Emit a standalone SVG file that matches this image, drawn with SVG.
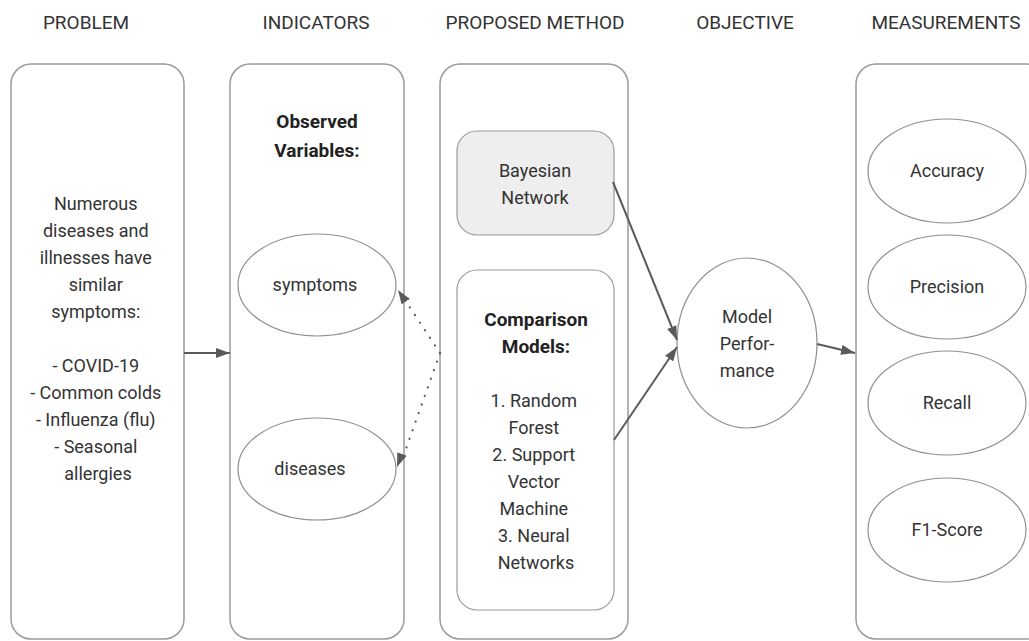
<svg xmlns="http://www.w3.org/2000/svg" width="1029" height="641" viewBox="0 0 1029 641">
<style>
.box{fill:#fff;stroke:#9a9a9a;stroke-width:1.5}
.ell{fill:#fff;stroke:#8f8f8f;stroke-width:1.2}
.hdr{font-family:Roboto,"Liberation Sans",sans-serif;font-size:19px;fill:#333;text-anchor:middle}
.t{font-family:Roboto,"Liberation Sans",sans-serif;font-size:18px;fill:#333;text-anchor:middle}
.b{font-family:Roboto,"Liberation Sans",sans-serif;font-size:19px;font-weight:bold;fill:#222;text-anchor:middle}
.con{fill:none;stroke:#5a5a5a;stroke-width:2}
.dot{fill:none;stroke:#5a5a5a;stroke-width:2.2;stroke-dasharray:0.1 9;stroke-linecap:round}
</style>
<defs>
<marker id="arr" viewBox="0 0 14 10" refX="14" refY="5" markerWidth="14" markerHeight="10" orient="auto" markerUnits="userSpaceOnUse"><path d="M0,0 L14,5 L0,10 z" fill="#5a5a5a"/></marker>
</defs>
<rect width="1029" height="641" fill="#fff"/>

<g id="headers">
<text class="hdr" x="86" y="29">PROBLEM</text>
<text class="hdr" x="316" y="29">INDICATORS</text>
<text class="hdr" x="535" y="29">PROPOSED METHOD</text>
<text class="hdr" x="745" y="29">OBJECTIVE</text>
<text class="hdr" x="946" y="29">MEASUREMENTS</text>
</g>

<g id="problem">
<rect class="box" x="11" y="64" width="173" height="575" rx="20"/>
<text class="t" x="98">
<tspan x="98" y="210">Numerous</tspan>
<tspan x="98" y="237">diseases and</tspan>
<tspan x="98" y="264">illnesses have</tspan>
<tspan x="98" y="291">similar</tspan>
<tspan x="98" y="318">symptoms:</tspan>
<tspan x="98" y="372">- COVID-19</tspan>
<tspan x="98" y="399">- Common colds</tspan>
<tspan x="98" y="426">- Influenza (flu)</tspan>
<tspan x="98" y="453">- Seasonal</tspan>
<tspan x="98" y="480">allergies</tspan>
</text>
</g>

<g id="indicators">
<rect class="box" x="230" y="64" width="174" height="575" rx="20"/>
<text class="b" x="317"><tspan x="317" y="128">Observed</tspan><tspan x="317" y="157">Variables:</tspan></text>
</g>
<g id="symptoms">
<ellipse class="ell" cx="317" cy="285" rx="79" ry="51"/>
<text class="t" x="315" y="291">symptoms</text>
</g>
<g id="diseases">
<ellipse class="ell" cx="317" cy="469" rx="79" ry="51"/>
<text class="t" x="310" y="475">diseases</text>
</g>

<g id="proposed">
<rect class="box" x="440" y="64" width="188" height="575" rx="20"/>
</g>
<g id="bayesian">
<rect x="457" y="131" width="157" height="104" rx="20" fill="#eeeeee" stroke="#9a9a9a" stroke-width="1.2"/>
<text class="t" x="535"><tspan x="535" y="177">Bayesian</tspan><tspan x="535" y="204">Network</tspan></text>
</g>
<g id="comparison">
<rect class="box" x="457" y="270" width="157" height="340" rx="20" style="stroke-width:1.2"/>
<text class="b" x="536"><tspan x="536" y="326">Comparison</tspan><tspan x="536" y="353">Models:</tspan></text>
<text class="t" x="536">
<tspan x="536" y="407">1. Random</tspan>
<tspan x="536" y="434">Forest</tspan>
<tspan x="536" y="461">2. Support</tspan>
<tspan x="536" y="488">Vector</tspan>
<tspan x="536" y="515">Machine</tspan>
<tspan x="536" y="542">3. Neural</tspan>
<tspan x="536" y="569">Networks</tspan>
</text>
</g>

<g id="model-performance">
<ellipse class="ell" cx="747" cy="343" rx="70" ry="85"/>
<text class="t" x="747"><tspan x="747" y="323">Model</tspan><tspan x="747" y="350">Perfor-</tspan><tspan x="747" y="377">mance</tspan></text>
</g>

<g id="measurements">
<rect class="box" x="856" y="64" width="190" height="575" rx="20"/>
</g>
<g id="accuracy">
<ellipse class="ell" cx="947" cy="171" rx="79" ry="52"/>
<text class="t" x="947" y="177">Accuracy</text>
</g>
<g id="precision">
<ellipse class="ell" cx="947" cy="287" rx="79" ry="52"/>
<text class="t" x="947" y="293">Precision</text>
</g>
<g id="recall">
<ellipse class="ell" cx="947" cy="403" rx="79" ry="52"/>
<text class="t" x="947" y="409">Recall</text>
</g>
<g id="f1">
<ellipse class="ell" cx="947" cy="530" rx="79" ry="52"/>
<text class="t" x="947" y="536">F1-Score</text>
</g>

<g id="connectors">
<path class="con" d="M184,353 L230,353" marker-end="url(#arr)"/>
<path class="dot" d="M440,353 L403,297"/>
<path class="dot" d="M440,353 L402,460"/>
<path d="M440,353 L398,290" fill="none" stroke="none" marker-end="url(#arr)"/>
<path d="M440,353 L397,467" fill="none" stroke="none" marker-end="url(#arr)"/>
<path class="con" d="M613,182 L677,340" marker-end="url(#arr)"/>
<path class="con" d="M614,440 L677,347" marker-end="url(#arr)"/>
<path class="con" d="M817,344 L855,353" marker-end="url(#arr)"/>
</g>
</svg>
